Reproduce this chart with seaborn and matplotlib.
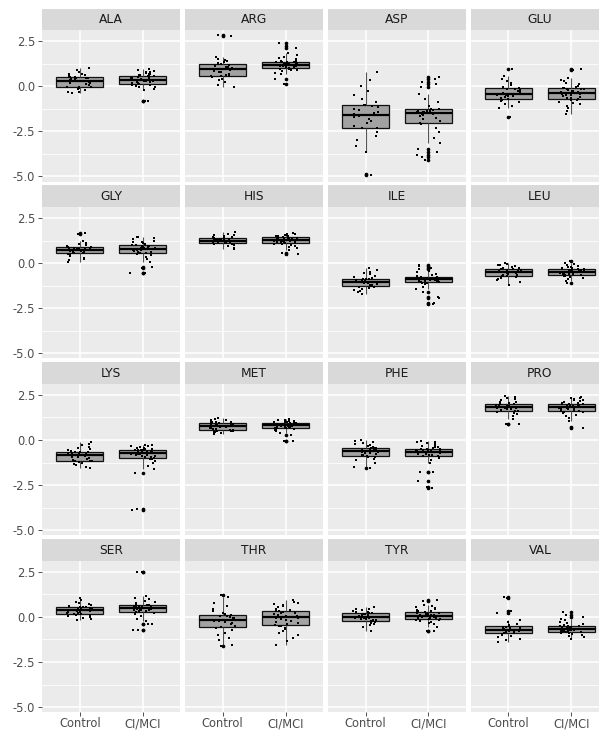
import numpy as np
import pandas as pd
import matplotlib
matplotlib.use("Agg")
import matplotlib.pyplot as plt
import seaborn as sns

# ---- measured z-scores per amino acid and diagnostic group ----
groups = ["Control", "CI/MCI"]
amino_acids = ["ALA", "ARG", "ASP", "GLU", "GLY", "HIS", "ILE", "LEU",
               "LYS", "MET", "PHE", "PRO", "SER", "THR", "TYR", "VAL"]
y_ticks = [-5.0, -2.5, 0.0, 2.5]
y_tick_labels = ["-5.0", "-2.5", "0.0", "2.5"]

ALA_control = [-0.40, -0.35, -0.30, -0.22, -0.15, -0.10, -0.06, -0.03,
               -0.02, 0.05, 0.10, 0.15, 0.20, 0.24, 0.27, 0.29,
               0.31, 0.34, 0.37, 0.40, 0.43, 0.46, 0.48, 0.50,
               0.51, 0.55, 0.60, 0.65, 0.70, 0.78, 0.88, 0.98]
ALA_cimci = [-0.84, -0.82, -0.19, -0.13, -0.07, -0.02, 0.03, 0.06, 0.08, 0.10,
             0.12, 0.15, 0.18, 0.21, 0.24, 0.26, 0.28, 0.30, 0.31, 0.32,
             0.34, 0.37, 0.40, 0.43, 0.46, 0.49, 0.52, 0.55, 0.57, 0.58,
             0.60, 0.62, 0.65, 0.68, 0.72, 0.76, 0.80, 0.85, 0.90, 0.96]

ARG_control = [-0.07, 0.08, 0.22, 0.33, 0.42, 0.49, 0.54, 0.56,
               0.58, 0.64, 0.70, 0.76, 0.81, 0.86, 0.90, 0.93,
               0.95, 0.99, 1.04, 1.08, 1.12, 1.17, 1.21, 1.25,
               1.27, 1.32, 1.38, 1.45, 1.53, 1.62, 2.76, 2.81]
ARG_cimci = [0.11, 0.39, 0.66, 0.75, 0.82, 0.88, 0.92, 0.95, 0.97, 0.99,
             1.01, 1.04, 1.06, 1.09, 1.11, 1.13, 1.15, 1.17, 1.18, 1.19,
             1.21, 1.23, 1.25, 1.27, 1.29, 1.31, 1.33, 1.34, 1.35, 1.36,
             1.38, 1.42, 1.48, 1.55, 1.64, 1.73, 1.83, 2.14, 2.25, 2.38]

ASP_control = [-4.90, -4.86, -3.67, -3.30, -3.00, -2.75, -2.52, -2.34,
               -2.30, -2.18, -2.05, -1.93, -1.82, -1.72, -1.64, -1.58,
               -1.56, -1.49, -1.41, -1.33, -1.25, -1.17, -1.10, -1.05,
               -1.02, -0.88, -0.70, -0.48, -0.25, 0.02, 0.35, 0.76]
ASP_cimci = [-4.10, -3.95, -3.80, -3.65, -3.50, -3.12, -2.85, -2.55, -2.30, -2.10,
             -2.02, -1.92, -1.82, -1.74, -1.67, -1.61, -1.56, -1.52, -1.49, -1.47,
             -1.45, -1.43, -1.41, -1.39, -1.37, -1.35, -1.33, -1.31, -1.29, -1.28,
             -1.25, -1.10, -0.90, -0.70, -0.44, -0.05, 0.12, 0.25, 0.38, 0.52]

GLU_control = [-1.68, -1.20, -1.08, -0.98, -0.90, -0.84, -0.78, -0.73,
               -0.71, -0.66, -0.61, -0.57, -0.53, -0.50, -0.48, -0.47,
               -0.45, -0.41, -0.36, -0.31, -0.26, -0.21, -0.16, -0.13,
               -0.11, -0.05, 0.05, 0.15, 0.28, 0.42, 0.55, 0.96]
GLU_cimci = [-1.52, -1.35, -1.22, -1.10, -1.00, -0.92, -0.85, -0.79, -0.75, -0.71,
             -0.68, -0.63, -0.58, -0.54, -0.50, -0.47, -0.44, -0.41, -0.39, -0.38,
             -0.36, -0.33, -0.30, -0.27, -0.24, -0.21, -0.18, -0.15, -0.13, -0.12,
             -0.10, -0.05, 0.02, 0.10, 0.18, 0.26, 0.35, 0.45, 0.90, 0.94]

GLY_control = [0.08, 0.15, 0.22, 0.30, 0.38, 0.45, 0.50, 0.54,
               0.56, 0.60, 0.63, 0.66, 0.68, 0.70, 0.71, 0.72,
               0.74, 0.76, 0.78, 0.80, 0.82, 0.84, 0.86, 0.87,
               0.89, 0.93, 0.98, 1.04, 1.12, 1.22, 1.63, 1.67]
GLY_cimci = [-0.55, -0.53, -0.30, -0.22, 0.05, 0.20, 0.32, 0.42, 0.49, 0.54,
             0.56, 0.60, 0.64, 0.67, 0.70, 0.72, 0.74, 0.76, 0.77, 0.78,
             0.80, 0.82, 0.84, 0.86, 0.88, 0.90, 0.93, 0.95, 0.97, 0.99,
             1.01, 1.05, 1.09, 1.14, 1.19, 1.25, 1.31, 1.37, 1.42, 1.47]

HIS_control = [0.80, 0.85, 0.92, 0.98, 1.03, 1.07, 1.10, 1.11,
               1.13, 1.15, 1.17, 1.19, 1.21, 1.22, 1.23, 1.24,
               1.26, 1.27, 1.29, 1.31, 1.33, 1.35, 1.36, 1.37,
               1.39, 1.42, 1.45, 1.49, 1.53, 1.58, 1.63, 1.70]
HIS_cimci = [0.53, 0.57, 0.72, 0.82, 0.90, 0.96, 1.01, 1.05, 1.08, 1.11,
             1.13, 1.15, 1.17, 1.19, 1.21, 1.23, 1.24, 1.25, 1.26, 1.27,
             1.29, 1.30, 1.32, 1.34, 1.35, 1.37, 1.38, 1.40, 1.41, 1.42,
             1.44, 1.46, 1.48, 1.50, 1.52, 1.54, 1.56, 1.59, 1.62, 1.65]

ILE_control = [-1.72, -1.62, -1.55, -1.48, -1.42, -1.37, -1.33, -1.31,
               -1.28, -1.24, -1.20, -1.16, -1.12, -1.09, -1.07, -1.05,
               -1.03, -1.00, -0.97, -0.94, -0.92, -0.90, -0.88, -0.86,
               -0.84, -0.78, -0.70, -0.62, -0.55, -0.47, -0.38, -0.28]
ILE_cimci = [-2.24, -2.22, -1.91, -1.88, -1.63, -1.45, -1.30, -1.18, -1.12, -1.09,
             -1.06, -1.03, -1.01, -0.99, -0.97, -0.95, -0.93, -0.92, -0.91, -0.90,
             -0.88, -0.87, -0.86, -0.85, -0.84, -0.83, -0.82, -0.81, -0.80, -0.79,
             -0.77, -0.72, -0.66, -0.58, -0.50, -0.42, -0.35, -0.25, -0.15, -0.10]

LEU_control = [-1.22, -1.05, -0.95, -0.88, -0.82, -0.78, -0.74, -0.72,
               -0.70, -0.67, -0.64, -0.61, -0.58, -0.56, -0.54, -0.53,
               -0.51, -0.49, -0.46, -0.43, -0.40, -0.37, -0.34, -0.31,
               -0.29, -0.25, -0.21, -0.17, -0.12, -0.08, -0.03, 0.03]
LEU_cimci = [-1.11, -0.98, -0.90, -0.84, -0.79, -0.75, -0.72, -0.69, -0.67, -0.66,
             -0.64, -0.62, -0.60, -0.58, -0.56, -0.54, -0.53, -0.52, -0.51, -0.50,
             -0.48, -0.47, -0.45, -0.44, -0.42, -0.40, -0.39, -0.37, -0.36, -0.35,
             -0.33, -0.30, -0.27, -0.24, -0.20, -0.16, -0.11, -0.05, 0.03, 0.12]

LYS_control = [-1.55, -1.48, -1.40, -1.33, -1.27, -1.22, -1.19, -1.17,
               -1.14, -1.10, -1.05, -1.00, -0.96, -0.92, -0.88, -0.85,
               -0.83, -0.80, -0.77, -0.74, -0.71, -0.69, -0.67, -0.65,
               -0.62, -0.57, -0.51, -0.45, -0.38, -0.30, -0.22, -0.14]
LYS_cimci = [-3.86, -3.82, -1.82, -1.60, -1.42, -1.28, -1.16, -1.08, -1.03, -1.00,
             -0.97, -0.93, -0.90, -0.87, -0.84, -0.81, -0.79, -0.77, -0.75, -0.74,
             -0.72, -0.70, -0.68, -0.66, -0.64, -0.62, -0.60, -0.58, -0.57, -0.56,
             -0.54, -0.51, -0.48, -0.45, -0.42, -0.39, -0.36, -0.33, -0.30, -0.27]

MET_control = [0.32, 0.38, 0.42, 0.45, 0.48, 0.50, 0.52, 0.53,
               0.56, 0.59, 0.62, 0.65, 0.68, 0.71, 0.74, 0.77,
               0.79, 0.81, 0.84, 0.86, 0.89, 0.91, 0.93, 0.96,
               0.98, 1.00, 1.02, 1.05, 1.08, 1.11, 1.15, 1.19]
MET_cimci = [-0.08, -0.05, 0.28, 0.40, 0.48, 0.54, 0.58, 0.62, 0.65, 0.66,
             0.68, 0.70, 0.72, 0.74, 0.76, 0.77, 0.78, 0.79, 0.80, 0.81,
             0.83, 0.84, 0.85, 0.86, 0.87, 0.88, 0.89, 0.90, 0.91, 0.92,
             0.94, 0.96, 0.98, 1.00, 1.02, 1.04, 1.06, 1.09, 1.12, 1.15]

PHE_control = [-1.55, -1.52, -1.25, -1.12, -1.03, -0.97, -0.92, -0.89,
               -0.86, -0.82, -0.78, -0.74, -0.70, -0.67, -0.64, -0.63,
               -0.61, -0.58, -0.55, -0.52, -0.49, -0.47, -0.45, -0.43,
               -0.40, -0.35, -0.30, -0.24, -0.18, -0.12, -0.06, -0.01]
PHE_cimci = [-2.65, -2.62, -2.27, -1.78, -1.76, -1.30, -1.12, -1.00, -0.93, -0.89,
             -0.87, -0.84, -0.81, -0.78, -0.75, -0.72, -0.70, -0.68, -0.67, -0.66,
             -0.65, -0.63, -0.61, -0.59, -0.57, -0.55, -0.53, -0.51, -0.49, -0.48,
             -0.45, -0.41, -0.37, -0.33, -0.29, -0.24, -0.19, -0.14, -0.09, -0.04]

PRO_control = [0.86, 0.90, 1.15, 1.32, 1.42, 1.50, 1.56, 1.60,
               1.63, 1.66, 1.69, 1.72, 1.75, 1.77, 1.79, 1.80,
               1.81, 1.84, 1.87, 1.90, 1.93, 1.96, 1.99, 2.01,
               2.04, 2.08, 2.13, 2.19, 2.25, 2.31, 2.38, 2.44]
PRO_cimci = [0.68, 0.70, 1.05, 1.22, 1.33, 1.41, 1.47, 1.52, 1.55, 1.57,
             1.60, 1.63, 1.66, 1.69, 1.72, 1.75, 1.77, 1.79, 1.81, 1.82,
             1.84, 1.86, 1.88, 1.90, 1.92, 1.94, 1.96, 1.98, 2.00, 2.01,
             2.04, 2.07, 2.11, 2.15, 2.19, 2.23, 2.27, 2.31, 2.35, 2.40]

SER_control = [-0.15, -0.10, -0.04, 0.02, 0.07, 0.10, 0.13, 0.14,
               0.16, 0.19, 0.22, 0.25, 0.28, 0.31, 0.34, 0.36,
               0.38, 0.40, 0.42, 0.44, 0.47, 0.49, 0.52, 0.54,
               0.56, 0.60, 0.65, 0.70, 0.77, 0.85, 0.95, 1.05]
SER_cimci = [-0.75, -0.72, -0.42, -0.40, -0.25, -0.10, 0.05, 0.15, 0.22, 0.27,
             0.30, 0.33, 0.36, 0.38, 0.40, 0.42, 0.44, 0.45, 0.46, 0.47,
             0.49, 0.51, 0.53, 0.55, 0.57, 0.59, 0.61, 0.62, 0.64, 0.65,
             0.68, 0.72, 0.77, 0.83, 0.90, 0.98, 1.06, 1.15, 2.46, 2.50]

THR_control = [-1.62, -1.55, -1.30, -1.15, -1.02, -0.88, -0.75, -0.62,
               -0.55, -0.48, -0.42, -0.36, -0.30, -0.25, -0.21, -0.18,
               -0.16, -0.12, -0.08, -0.04, 0.00, 0.04, 0.07, 0.10,
               0.14, 0.22, 0.32, 0.45, 0.60, 0.78, 1.10, 1.22]
THR_cimci = [-1.58, -1.35, -1.15, -1.00, -0.88, -0.78, -0.68, -0.60, -0.53, -0.48,
             -0.44, -0.39, -0.34, -0.29, -0.24, -0.19, -0.14, -0.10, -0.07, -0.04,
             -0.02, 0.03, 0.07, 0.11, 0.15, 0.19, 0.23, 0.27, 0.30, 0.32,
             0.35, 0.40, 0.46, 0.52, 0.58, 0.64, 0.70, 0.77, 0.84, 0.92]

TYR_control = [-0.78, -0.55, -0.45, -0.38, -0.32, -0.28, -0.25, -0.23,
               -0.20, -0.17, -0.14, -0.11, -0.08, -0.06, -0.04, -0.03,
               -0.01, 0.02, 0.05, 0.08, 0.11, 0.14, 0.17, 0.19,
               0.21, 0.25, 0.29, 0.33, 0.37, 0.41, 0.46, 0.52]
TYR_cimci = [-0.78, -0.76, -0.55, -0.42, -0.34, -0.28, -0.23, -0.19, -0.16, -0.14,
             -0.11, -0.08, -0.06, -0.04, -0.02, 0.00, 0.02, 0.03, 0.04, 0.05,
             0.07, 0.09, 0.11, 0.13, 0.15, 0.17, 0.20, 0.22, 0.25, 0.27,
             0.30, 0.34, 0.38, 0.43, 0.48, 0.54, 0.60, 0.68, 0.90, 0.92]

VAL_control = [-1.38, -1.30, -1.22, -1.12, -1.04, -0.98, -0.94, -0.91,
               -0.89, -0.86, -0.83, -0.81, -0.78, -0.76, -0.74, -0.73,
               -0.71, -0.69, -0.66, -0.63, -0.60, -0.57, -0.54, -0.51,
               -0.47, -0.40, -0.30, -0.15, 0.22, 0.33, 1.05, 1.08]
VAL_cimci = [-1.22, -1.12, -1.05, -0.99, -0.95, -0.91, -0.88, -0.86, -0.85, -0.84,
             -0.82, -0.80, -0.78, -0.76, -0.75, -0.73, -0.72, -0.71, -0.70, -0.69,
             -0.67, -0.65, -0.63, -0.61, -0.59, -0.57, -0.55, -0.53, -0.52, -0.51,
             -0.48, -0.44, -0.40, -0.35, -0.28, -0.20, -0.10, 0.02, 0.08, 0.25]

series = {
    "ALA": (ALA_control, ALA_cimci), "ARG": (ARG_control, ARG_cimci),
    "ASP": (ASP_control, ASP_cimci), "GLU": (GLU_control, GLU_cimci),
    "GLY": (GLY_control, GLY_cimci), "HIS": (HIS_control, HIS_cimci),
    "ILE": (ILE_control, ILE_cimci), "LEU": (LEU_control, LEU_cimci),
    "LYS": (LYS_control, LYS_cimci), "MET": (MET_control, MET_cimci),
    "PHE": (PHE_control, PHE_cimci), "PRO": (PRO_control, PRO_cimci),
    "SER": (SER_control, SER_cimci), "THR": (THR_control, THR_cimci),
    "TYR": (TYR_control, TYR_cimci), "VAL": (VAL_control, VAL_cimci),
}

rows = []
for aa in amino_acids:
    ctrl, ci = series[aa]
    rows += [(aa, groups[0], v) for v in ctrl]
    rows += [(aa, groups[1], v) for v in ci]
df = pd.DataFrame(rows, columns=["amino_acid", "group", "value"])

# ---- figure layout (pixel geometry of a 4x4 facet grid) ----
plt.rcParams["axes.unicode_minus"] = False
plt.rcParams["font.family"] = ["DejaVu Sans"]
W, H = 599, 731
fig = plt.figure(figsize=(W / 100, H / 100), dpi=100, facecolor="white")

col_x0, col_step, panel_w = 42.0, 142.9, 138.4
row_y0, row_step, strip_h, panel_h = 8.5, 176.9, 21.7, 151.3

np.random.seed(11)
for idx, aa in enumerate(amino_acids):
    r, c = divmod(idx, 4)
    left = (col_x0 + c * col_step) / W
    top = row_y0 + r * row_step
    bottom = 1 - (top + strip_h + panel_h) / H
    ax = fig.add_axes([left, bottom, panel_w / W, panel_h / H])
    sax = fig.add_axes([left, 1 - (top + strip_h) / H, panel_w / W, strip_h / H])

    sub = df[df["amino_acid"] == aa]
    ax.set_facecolor("#EBEBEB")
    ax.set_axisbelow(True)
    sns.boxplot(data=sub, x="group", y="value", order=groups, ax=ax,
                color="#a2a2a2", saturation=1, width=0.75, linecolor="#111111",
                linewidth=0.9, showcaps=False, fliersize=1.6,
                flierprops=dict(marker="o", markerfacecolor="black",
                                markeredgecolor="black"),
                whiskerprops=dict(color="#555555", linewidth=0.8),
                medianprops=dict(color="black", linewidth=1.6))
    sns.stripplot(data=sub, x="group", y="value", order=groups, ax=ax,
                  jitter=0.2, size=1.7, color="black", marker="s",
                  linewidth=0)

    ax.set_xlim(-0.6, 1.6)
    ax.set_ylim(-5.28, 3.1)
    ax.set_xlabel("")
    ax.set_ylabel("")
    ax.set_yticks(y_ticks)
    ax.set_yticks([-3.75, -1.25, 1.25], minor=True)
    ax.grid(True, which="major", color="white", linewidth=1.1)
    ax.grid(True, which="minor", axis="y", color="white", linewidth=0.55)
    for s in ax.spines.values():
        s.set_visible(False)
    ax.tick_params(axis="both", which="major", length=2.8, width=0.6,
                   color="#333333", labelcolor="#4D4D4D", labelsize=8.3, pad=2)
    ax.tick_params(axis="x", which="major", pad=1)
    ax.tick_params(axis="both", which="minor", length=0)
    if c == 0:
        ax.set_yticklabels(y_tick_labels)
    else:
        ax.tick_params(axis="y", which="major", length=0, labelleft=False)
    if r == 3:
        ax.set_xticks([0, 1])
        ax.set_xticklabels(groups)
    else:
        ax.tick_params(axis="x", which="major", length=0, labelbottom=False)

    sax.set_facecolor("#D9D9D9")
    sax.set_xticks([])
    sax.set_yticks([])
    for s in sax.spines.values():
        s.set_visible(False)
    sax.text(0.5, 0.5, aa, ha="center", va="center", fontsize=8.8,
             color="#1A1A1A", transform=sax.transAxes)

fig.savefig("out.png", dpi=100, facecolor="white")
